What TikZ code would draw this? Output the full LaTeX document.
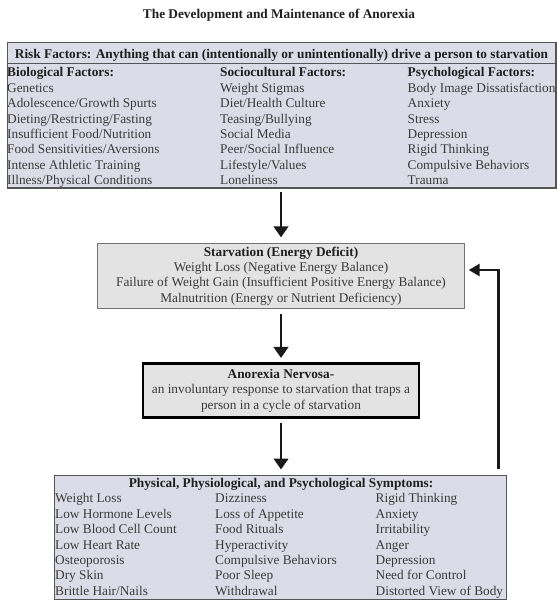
\documentclass[tikz,border=0pt]{standalone}
\usepackage{fontspec}
\setmainfont{Liberation Serif}
\usetikzlibrary{arrows.meta}
\definecolor{lav}{HTML}{DCDCE8}
\definecolor{lgray}{HTML}{E3E3E3}
\definecolor{txt}{HTML}{3A3A3A}
\definecolor{bd}{HTML}{555555}
\tikzset{
  every node/.style={font=\fontsize{13.3}{15.3}\selectfont, text=txt, inner sep=0pt},
  hd/.style={font=\bfseries\fontsize{13.3}{15.3}\selectfont, text=black!88},
  item/.style={anchor=base west},
  lavbox/.style={draw=bd, line width=1.3pt, fill=lav, anchor=north west},
  graybox/.style={draw=black!55, line width=0.9pt, fill=lgray, align=center},
  thickbox/.style={draw=black, line width=2.8pt, fill=lgray, align=center},
  arr/.style={line width=2.9pt, draw=black!90, -{Triangle[width=14.5pt,length=11pt]}},
}
\begin{document}
\begin{tikzpicture}[x=1pt,y=-1pt]
\useasboundingbox (0,0) rectangle (557,600);
% title
\node[hd, anchor=base] (title) at (279,18.5) {The Development and Maintenance of Anorexia};
% risk box
\node[lavbox, minimum width=548.5pt, minimum height=145.5pt] (risk) at (6.7,41.7) {};
\draw[bd, line width=1.3pt] (6.7,63.3) -- (555.2,63.3);
\node[hd, anchor=base] (riskhd) at (281.5,58.3) {Risk Factors: Anything that can (intentionally or unintentionally) drive a person to starvation};
\foreach \x/\h/\a/\b/\c/\d/\e/\f/\g [count=\i] in {
  7/Biological Factors:/Genetics/Adolescence\slash Growth Spurts/Dieting\slash Restricting\slash Fasting/Insufficient Food\slash Nutrition/Food Sensitivities\slash Aversions/Intense Athletic Training/Illness\slash Physical Conditions,
  220/Sociocultural Factors:/Weight Stigmas/Diet\slash Health Culture/Teasing\slash Bullying/Social Media/Peer\slash Social Influence/Lifestyle\slash Values/Loneliness,
  407.5/Psychological Factors:/Body Image Dissatisfaction/Anxiety/Stress/Depression/Rigid Thinking/Compulsive Behaviors/Trauma}{
  \node[hd, item] (rh\i) at (\x,76.5) {\h};
  \node[item] (r\i a) at (\x,92.5) {\a};
  \node[item] (r\i b) at (\x,107.8) {\b};
  \node[item] (r\i c) at (\x,123.1) {\c};
  \node[item] (r\i d) at (\x,138.4) {\d};
  \node[item] (r\i e) at (\x,153.7) {\e};
  \node[item] (r\i f) at (\x,169.0) {\f};
  \node[item] (r\i g) at (\x,184.3) {\g};
}
% starvation
\node[graybox, minimum width=366.3pt, minimum height=65pt] (starv) at (281,275.8)
  {\textbf{\color{black!88}Starvation (Energy Deficit)}\\
   Weight Loss (Negative Energy Balance)\\
   Failure of Weight Gain (Insufficient Positive Energy Balance)\\
   Malnutrition (Energy or Nutrient Deficiency)};
% anorexia
\node[thickbox, minimum width=276pt, minimum height=53.5pt] (an) at (281,390.6)
  {\textbf{\color{black!88}Anorexia Nervosa-}\\
   an involuntary response to starvation that traps a\\
   person in a cycle of starvation};
% symptoms
\node[lavbox, minimum width=452pt, minimum height=124.5pt] (symp) at (54,474.5) {};
\node[hd, anchor=base] (symphd) at (281,487.3) {Physical, Physiological, and Psychological Symptoms:};
\foreach \x/\a/\b/\c/\d/\e/\f/\g [count=\i] in {
  55/Weight Loss/Low Hormone Levels/Low Blood Cell Count/Low Heart Rate/Osteoporosis/Dry Skin/Brittle Hair\slash Nails,
  215/Dizziness/Loss of Appetite/Food Rituals/Hyperactivity/Compulsive Behaviors/Poor Sleep/Withdrawal,
  375.5/Rigid Thinking/Anxiety/Irritability/Anger/Depression/Need for Control/Distorted View of Body}{
  \node[item] (s\i a) at (\x,502.8) {\a};
  \node[item] (s\i b) at (\x,518.2) {\b};
  \node[item] (s\i c) at (\x,533.6) {\c};
  \node[item] (s\i d) at (\x,549.0) {\d};
  \node[item] (s\i e) at (\x,564.4) {\e};
  \node[item] (s\i f) at (\x,579.8) {\f};
  \node[item] (s\i g) at (\x,595.2) {\g};
}
% arrows
\draw[arr, shorten <=3pt, shorten >=5.5pt] (risk.south -| starv.north) -- (starv.north);
\draw[arr, shorten <=5pt, shorten >=4.5pt] (starv.south) -- (an.north);
\draw[arr, shorten <=4pt, shorten >=5pt] (an.south) -- (symp.north -| an.south);
\coordinate (fbx) at (498.7,0);
\coordinate (fbin) at (464.3,270);
\draw[arr, -{Triangle[width=12pt,length=11pt]}, shorten <=6pt, shorten >=4.4pt] (symp.north -| fbx) |- (fbin);
\end{tikzpicture}
\end{document}
